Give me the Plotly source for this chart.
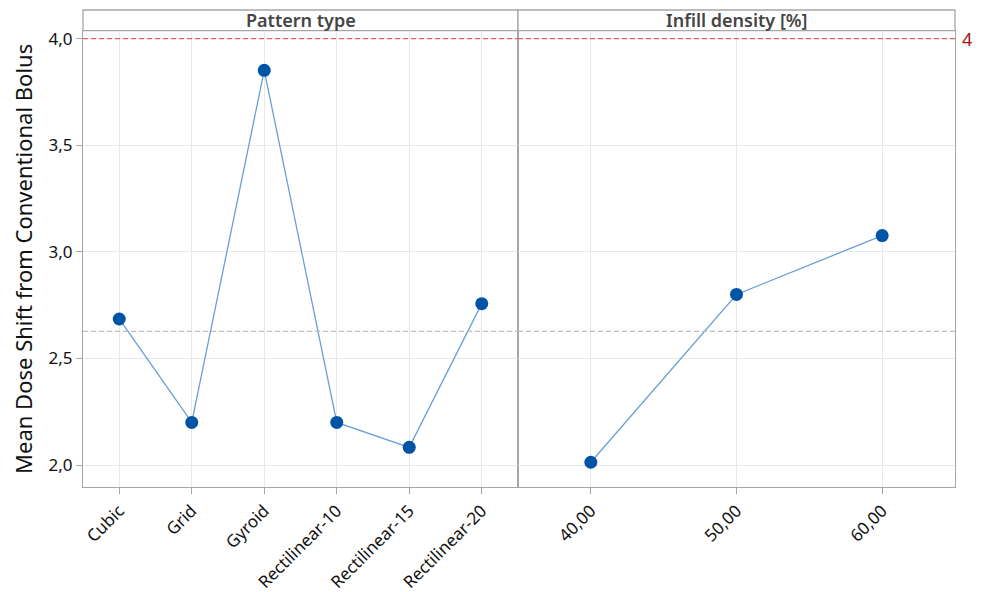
import plotly.graph_objects as go
from plotly.subplots import make_subplots

pattern_types = ["Cubic", "Grid", "Gyroid", "Rectilinear-10", "Rectilinear-15", "Rectilinear-20"]
pattern_means = [2.685, 2.20, 3.851, 2.20, 2.083, 2.757]

infill_density = [40, 50, 60]
infill_means = [2.013, 2.800, 3.076]
infill_ticks = [40, 50, 60]
infill_ticktext = ["40,00", "50,00", "60,00"]

y_ticks = [2.0, 2.5, 3.0, 3.5, 4.0]
reference_value = 4.0
grand_mean = 2.627
panel_titles = ["Pattern type", "Infill density [%]"]
y_title = "Mean Dose Shift from Conventional Bolus"

FONT = "Noto Sans"
MARKER = "#0054a6"
LINE = "#6a9fd6"
FRAME = "#a6a6a6"
GRID = "#e9e9e9"

split = 435 / 872
ytop = (477 - 20.7) / 477

fig = make_subplots(rows=1, cols=2, shared_yaxes=True, horizontal_spacing=0)

fig.add_trace(go.Scatter(x=pattern_types, y=pattern_means, mode="lines+markers",
                         line=dict(color=LINE, width=1.3),
                         marker=dict(color=MARKER, size=13), showlegend=False), row=1, col=1)
fig.add_trace(go.Scatter(x=infill_density, y=infill_means, mode="lines+markers",
                         line=dict(color=LINE, width=1.3),
                         marker=dict(color=MARKER, size=13), showlegend=False), row=1, col=2)

axis_common = dict(showline=True, mirror=True, linecolor=FRAME, linewidth=1.3,
                   showgrid=True, gridcolor=GRID, gridwidth=1,
                   ticks="outside", ticklen=6, tickcolor=FRAME, automargin=False,
                   tickfont=dict(family=FONT, size=17, color="#111111"), zeroline=False)

fig.update_xaxes(**axis_common)
fig.update_yaxes(**axis_common)

fig.update_layout(
    xaxis=dict(domain=[0, split], type="category", range=[-0.5, 5.5], tickangle=-45),
    xaxis2=dict(domain=[split, 1], range=[35, 65], tickvals=infill_ticks,
                ticktext=infill_ticktext, tickangle=-45),
    yaxis=dict(domain=[0, ytop], range=[1.897, 4.037], tickvals=y_ticks, tickformat=".1f",
               title=dict(text=y_title, font=dict(family=FONT, size=22, color="#111111"), standoff=10)),
    yaxis2=dict(domain=[0, ytop], range=[1.897, 4.037], tickvals=y_ticks, showticklabels=False,
                ticks=""),
    separators=",.",
    width=974, height=584,
    margin=dict(l=75, r=27, t=2, b=105),
    plot_bgcolor="white", paper_bgcolor="white",
    font=dict(family=FONT),
)

# strip headers
for i, (x0, x1) in enumerate([(0, split), (split, 1)]):
    fig.add_shape(type="rect", xref="paper", yref="paper", x0=x0, x1=x1, y0=ytop, y1=1,
                  line=dict(color=FRAME, width=1.3), fillcolor="white", layer="below")
    fig.add_annotation(xref="paper", yref="paper", x=(x0 + x1) / 2, y=(ytop + 1) / 2,
                       text=panel_titles[i], showarrow=False, xanchor="center", yanchor="middle",
                       font=dict(family=FONT, size=18, color="#454545", weight=600))

# reference lines
for xr, yr in [("x domain", "y"), ("x2 domain", "y2")]:
    fig.add_shape(type="line", xref=xr, yref=yr, x0=0, x1=1, y0=reference_value, y1=reference_value,
                  line=dict(color="#e06060", width=1.3, dash="5px,3px"))
    fig.add_shape(type="line", xref=xr, yref=yr, x0=0, x1=1, y0=grand_mean, y1=grand_mean,
                  line=dict(color="#bdbdbd", width=1.3, dash="5px,3px"))

fig.add_annotation(xref="paper", yref="y", x=1, y=reference_value, text="4", showarrow=False,
                   xanchor="left", xshift=5, font=dict(family=FONT, size=18, color="#a31515"))

fig.write_html("out.html")
